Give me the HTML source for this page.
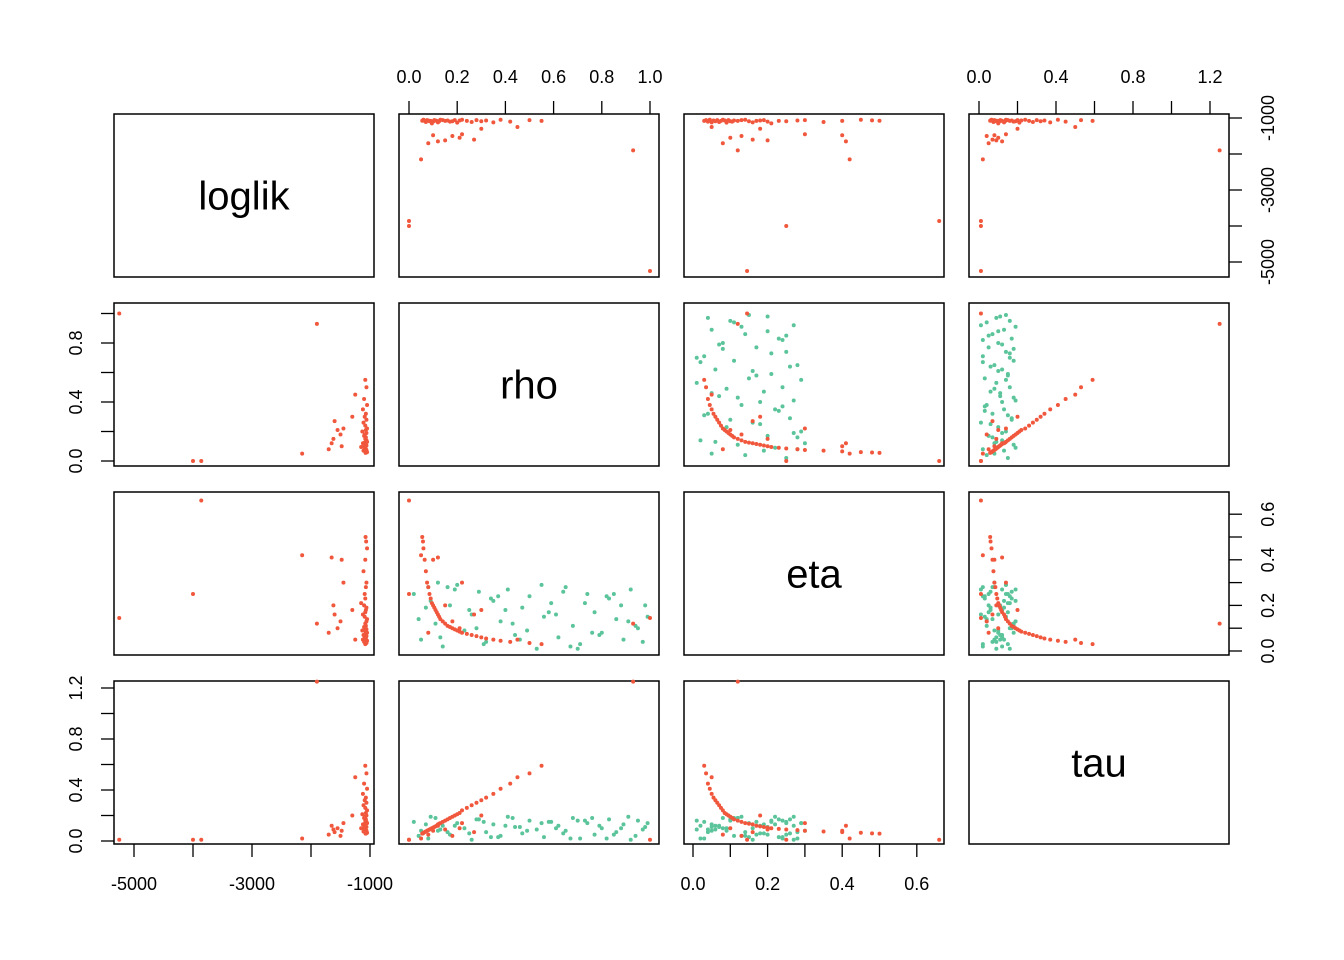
<!DOCTYPE html>
<html><head><meta charset="utf-8"><style>
html,body{margin:0;padding:0;background:#fff;}
svg{display:block;font-family:"Liberation Sans",Arial,sans-serif;}
</style></head><body>
<svg id="chart" width="1344" height="960" viewBox="0 0 1344 960" xmlns="http://www.w3.org/2000/svg"></svg>
<script>
// ---- data ----
const varNames = ["loglik","rho","eta","tau"];
// red (fitted) points
const redLoglik = [-5250,-3860,-4000,-1900,-2150,-1650,-1600,-1550,-1500,-1480,-1700,-1450,-1620,-1300,-1250,
 -1080,-1060,-1100,-1050,-1120,-1070,-1090,-1060,-1110,-1080,-1050,-1070,-1130,-1060,-1090,-1100,-1070,-1080,-1060,-1050,-1090,-1120,-1080,-1070,-1060,-1100,-1150,-1080,-1090,-1070,-1060,-1110,-1080,-1050,-1065,-1075];
const redRho = [1.0,0.0,0.0,0.93,0.05,0.12,0.27,0.21,0.18,0.1,0.08,0.22,0.15,0.3,0.45,
 0.55,0.5,0.42,0.38,0.35,0.32,0.3,0.28,0.26,0.24,0.22,0.21,0.2,0.19,0.18,0.17,0.16,0.15,0.14,0.13,0.125,0.12,0.115,0.11,0.105,0.1,0.095,0.09,0.085,0.08,0.075,0.07,0.065,0.06,0.058,0.055];
const redEta = [0.145,0.66,0.25,0.12,0.42,0.41,0.16,0.1,0.13,0.4,0.08,0.3,0.2,0.18,0.05,
 0.03,0.035,0.04,0.045,0.05,0.055,0.06,0.065,0.07,0.075,0.08,0.085,0.09,0.095,0.1,0.105,0.11,0.12,0.13,0.14,0.15,0.16,0.17,0.18,0.19,0.2,0.21,0.23,0.25,0.28,0.3,0.35,0.4,0.45,0.48,0.5];
const redTau = [0.01,0.01,0.01,1.25,0.02,0.12,0.07,0.1,0.04,0.08,0.05,0.14,0.09,0.2,0.5,
 0.59,0.53,0.45,0.41,0.37,0.34,0.32,0.3,0.28,0.26,0.24,0.22,0.21,0.2,0.19,0.18,0.17,0.16,0.15,0.14,0.135,0.13,0.12,0.115,0.11,0.105,0.1,0.095,0.09,0.085,0.08,0.075,0.07,0.065,0.06,0.058];
// green (starting) points; loglik not available
const greenRho = [0.02,0.05,0.08,0.11,0.14,0.17,0.2,0.23,0.26,0.29,0.32,0.35,0.38,0.41,0.44,0.47,0.5,0.53,0.56,0.59,0.62,0.65,0.68,0.71,0.74,0.77,0.8,0.83,0.86,0.89,0.92,0.95,0.98,
 0.04,0.09,0.13,0.19,0.25,0.31,0.37,0.43,0.49,0.55,0.61,0.67,0.73,0.79,0.85,0.91,0.97,0.07,0.16,0.28,0.34,0.46,0.58,0.64,0.76,0.88,0.94,0.99,0.12,0.4,0.7,0.82];
const greenEta = [0.25,0.05,0.28,0.12,0.02,0.2,0.29,0.09,0.16,0.26,0.04,0.22,0.13,0.27,0.07,0.19,0.24,0.01,0.15,0.21,0.06,0.28,0.11,0.03,0.25,0.17,0.08,0.23,0.14,0.05,0.27,0.1,0.2,
 0.14,0.22,0.06,0.27,0.18,0.03,0.24,0.12,0.09,0.29,0.16,0.02,0.21,0.07,0.25,0.13,0.04,0.19,0.28,0.1,0.23,0.05,0.17,0.26,0.08,0.2,0.11,0.15,0.3,0.18,0.01,0.24];
const greenTau = [0.15,0.08,0.02,0.18,0.12,0.05,0.14,0.1,0.01,0.17,0.07,0.13,0.04,0.19,0.11,0.06,0.16,0.09,0.03,0.15,0.12,0.08,0.18,0.02,0.14,0.05,0.1,0.17,0.07,0.13,0.01,0.16,0.11,
 0.04,0.19,0.09,0.12,0.06,0.15,0.03,0.18,0.08,0.14,0.1,0.02,0.16,0.12,0.05,0.19,0.09,0.13,0.07,0.17,0.03,0.11,0.15,0.06,0.18,0.1,0.04,0.14,0.08,0.12,0.16,0.02];
// ticks
const ticksLoglik = [-5000,-4000,-3000,-2000,-1000];
const labelsLoglik = ["-5000","","-3000","","-1000"];
const ticksRho = [0,0.2,0.4,0.6,0.8,1.0];
const labelsRhoTop = ["0.0","0.2","0.4","0.6","0.8","1.0"];
const labelsRhoLeft = ["0.0","","0.4","","0.8",""];
const ticksEta = [0,0.1,0.2,0.3,0.4,0.5,0.6];
const labelsEta = ["0.0","","0.2","","0.4","","0.6"];
const ticksTau = [0,0.2,0.4,0.6,0.8,1.0,1.2];
const labelsTau = ["0.0","","0.4","","0.8","","1.2"];

// ---- layout ----
const X0=[114,399,684,969], Y0=[114,303,492,681], PW=260, PH=163;
const sx=[v=>370+(v+1000)*0.059, v=>409+v*241, v=>693+v*373, v=>979+v*192.5];
const sy=[v=>118+(-1000-v)*0.036, v=>461-v*147.5, v=>651-v*228, v=>841-v*127.5];
const X=(k,col,v)=>sx[k](v)+X0[col]-X0[k];
const Y=(k,row,v)=>sy[k](v)+Y0[row]-Y0[k];

const svg=document.getElementById('chart');
const NS="http://www.w3.org/2000/svg";
function mk(tag,attrs,parent){const e=document.createElementNS(NS,tag);for(const a in attrs)e.setAttribute(a,attrs[a]);(parent||svg).appendChild(e);return e;}

const red=[redLoglik,redRho,redEta,redTau];
const green=[null,greenRho,greenEta,greenTau];

for(let r=0;r<4;r++)for(let c=0;c<4;c++){
  const g=mk('g',{});
  
  
  const rect=mk('rect',{x:X0[c],y:Y0[r],width:PW,height:PH,fill:'none',stroke:'#000','stroke-width':1.5},g);
  
  
  if(r===c){
    const t=mk('text',{x:X0[c]+PW/2,y:Y0[r]+PH/2+14,'text-anchor':'middle','font-size':40},g);
    t.textContent=varNames[r];
    
    
    continue;
  }
  if(green[r]&&green[c]){
    for(let i=0;i<green[c].length;i++){
      const p=mk('circle',{cx:X(c,c,green[c][i]),cy:Y(r,r,green[r][i]),r:2,fill:'#5bc49b'},g);
      
      
    }
  }
  for(let i=0;i<red[c].length;i++){
    const p=mk('circle',{cx:X(c,c,red[c][i]),cy:Y(r,r,red[r][i]),r:2,fill:'#f0573c'},g);
    
    
  }
}

function hAxis(k,col,ticks,labels,side,name){
  const g=mk('g',{});
  
  
  const y=side==='top'?Y0[0]:Y0[3]+PH, d=side==='top'?-1:1;
  ticks.forEach((t,i)=>{const x=X(k,col,t);
    mk('line',{x1:x,x2:x,y1:y,y2:y+d*13,stroke:'#000','stroke-width':1.3},g);
    if(labels[i]){const tx=mk('text',{x:x,y:side==='top'?y-31:y+46,'text-anchor':'middle','font-size':18},g);tx.textContent=labels[i];
      
      }
  });
}
function vAxis(k,row,ticks,labels,side,name){
  const g=mk('g',{});
  
  
  const x=side==='left'?X0[0]:X0[3]+PW, d=side==='left'?-1:1;
  ticks.forEach((t,i)=>{const y=Y(k,row,t);
    mk('line',{x1:x,x2:x+d*13,y1:y,y2:y,stroke:'#000','stroke-width':1.3},g);
    if(labels[i]){const lx=side==='left'?x-32:x+45;
      const tx=mk('text',{x:lx,y:y,'text-anchor':'middle','font-size':18,transform:`rotate(-90 ${lx} ${y})`},g);tx.textContent=labels[i];
      
      }
  });
}
hAxis(1,1,ticksRho,labelsRhoTop,'top','x-axis-rho');
hAxis(3,3,ticksTau,labelsTau,'top','x-axis-tau');
hAxis(0,0,ticksLoglik,labelsLoglik,'bottom','x-axis-loglik');
hAxis(2,2,ticksEta,labelsEta,'bottom','x-axis-eta');
vAxis(0,0,ticksLoglik,labelsLoglik,'right','y-axis-loglik');
vAxis(2,2,ticksEta,labelsEta,'right','y-axis-eta');
vAxis(1,1,ticksRho,labelsRhoLeft,'left','y-axis-rho');
vAxis(3,3,ticksTau,labelsTau,'left','y-axis-tau');
</script>
</body></html>
